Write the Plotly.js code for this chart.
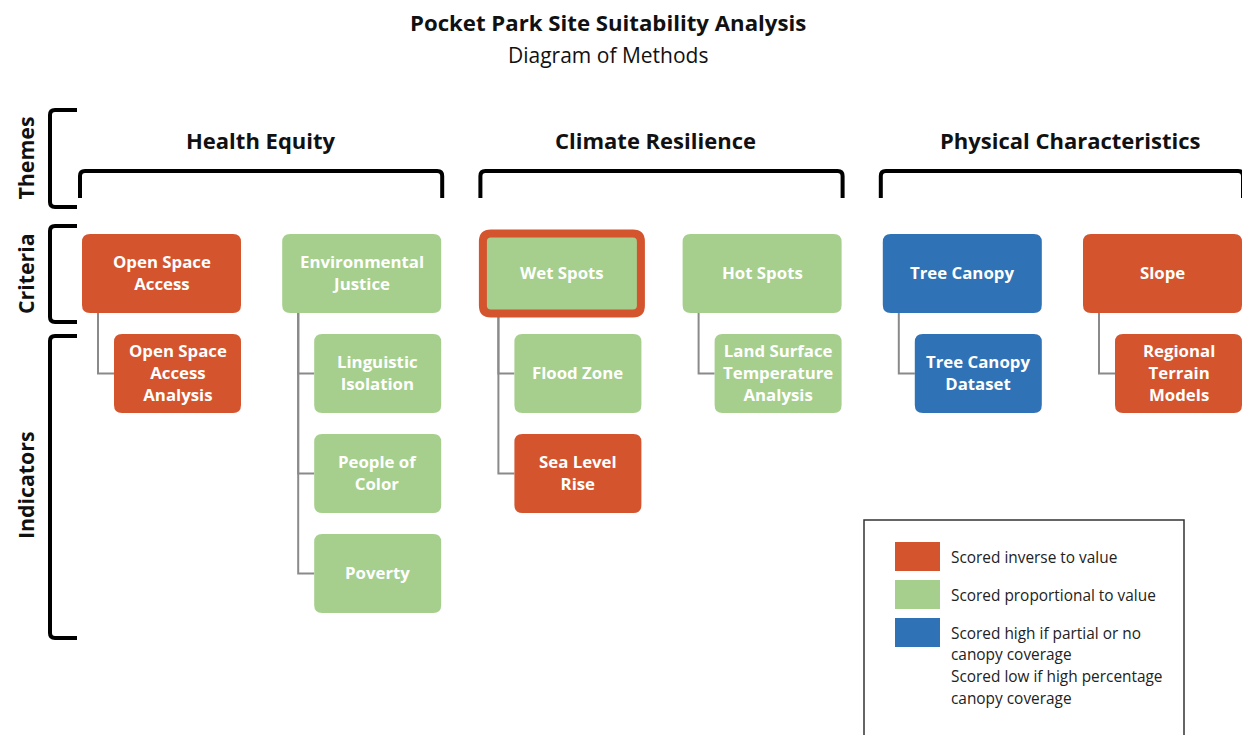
<!DOCTYPE html>
<html>
<head>
<meta charset="utf-8">
<script src="https://cdn.plot.ly/plotly-3.0.1.min.js"></script>
<style>html,body{margin:0;padding:0;background:#fff;}#chart{width:1242px;height:735px;}</style>
</head>
<body>
<div id="chart"></div>
<script>
// ---------- data ----------
const titleText = "Pocket Park Site Suitability Analysis";
const subtitleText = "Diagram of Methods";
const levels = ["Themes", "Criteria", "Indicators"];
const themes = ["Health Equity", "Climate Resilience", "Physical Characteristics"];
const criteria = ["Open Space<br>Access", "Environmental<br>Justice", "Wet Spots", "Hot Spots", "Tree Canopy", "Slope"];
const criteriaTheme = [0, 0, 1, 1, 2, 2];
const criteriaScoring = ["inverse", "proportional", "proportional", "proportional", "canopy", "inverse"];
const criteriaHighlight = [false, false, true, false, false, false];
const indicators = ["Open Space<br>Access<br>Analysis", "Linguistic<br>Isolation", "People of<br>Color", "Poverty",
  "Flood Zone", "Sea Level<br>Rise", "Land Surface<br>Temperature<br>Analysis", "Tree Canopy<br>Dataset", "Regional<br>Terrain<br>Models"];
const indicatorParent = [0, 1, 1, 1, 2, 2, 3, 4, 5];
const indicatorScoring = ["inverse", "proportional", "proportional", "proportional", "proportional", "inverse", "proportional", "canopy", "inverse"];
const scoringKeys = ["inverse", "proportional", "canopy"];
const scoringLabels = ["Scored inverse to value", "Scored proportional to value",
  "Scored high if partial or no<br>canopy coverage<br>Scored low if high percentage<br>canopy coverage"];

// ---------- styles / layout constants ----------
const colors = {inverse: "#D4542D", proportional: "#A6CF8D", canopy: "#2F72B5"};
const FONT = "'Open Sans', Lato, sans-serif";
const W = 1242, H = 735;
const colLeft0 = 82, colPitch = 200.2;
const critW = 159, critH = 79, critTop = 234;
const indOffset = 32, indW = 127, indH = 79, indTop = 334, indPitch = 100;
const radius = 8;
const boxFont = 16.8;

function rr(x0, y0, x1, y1, r) {
  return `M ${x0 + r} ${y0} L ${x1 - r} ${y0} Q ${x1} ${y0} ${x1} ${y0 + r} L ${x1} ${y1 - r} Q ${x1} ${y1} ${x1 - r} ${y1} L ${x0 + r} ${y1} Q ${x0} ${y1} ${x0} ${y1 - r} L ${x0} ${y0 + r} Q ${x0} ${y0} ${x0 + r} ${y0} Z`;
}

const shapes = [];
const annotations = [];

// Title
annotations.push({x: 608, y: 22, text: "<b>" + titleText + "</b>", showarrow: false, xref: "x", yref: "y",
  font: {family: FONT, size: 22.2, color: "#111"}});
annotations.push({x: 608, y: 55, text: subtitleText, showarrow: false, xref: "x", yref: "y",
  font: {family: FONT, size: 21, color: "#111"}});

// Level brackets on the left
const levelSpans = [[110, 207], [226, 322], [336, 638]];
levels.forEach((lv, i) => {
  const [a, b] = levelSpans[i];
  shapes.push({type: "path", xref: "x", yref: "y", path: `M 77 ${a} L 55 ${a} Q 50 ${a} 50 ${a + 5} L 50 ${b - 5} Q 50 ${b} 55 ${b} L 77 ${b}`,
    line: {color: "#000", width: 4}});
  annotations.push({x: 25, y: (a + b) / 2 + (i === 2 ? -2 : 0), text: "<b>" + lv + "</b>", textangle: -90, showarrow: false, xref: "x", yref: "y",
    font: {family: FONT, size: 21.3, color: "#111"}});
});

// Themes with brackets
themes.forEach((t, ti) => {
  const cols = criteria.map((c, i) => i).filter(i => criteriaTheme[i] === ti);
  const left = colLeft0 + cols[0] * colPitch - 2;
  const right = colLeft0 + cols[cols.length - 1] * colPitch + critW + 1;
  const top = 171, bot = 198;
  shapes.push({type: "path", xref: "x", yref: "y",
    path: `M ${left} ${bot} L ${left} ${top + 5} Q ${left} ${top} ${left + 5} ${top} L ${right - 5} ${top} Q ${right} ${top} ${right} ${top + 5} L ${right} ${bot}`,
    line: {color: "#000", width: 4}});
  annotations.push({x: (left + right) / 2 - (ti === 1 ? 6 : 0) + (ti === 2 ? 9 : 0), y: 140, text: "<b>" + t + "</b>", showarrow: false, xref: "x", yref: "y",
    font: {family: FONT, size: 22, color: "#111"}});
});

// Connectors (drawn first, under boxes)
const rowCount = criteria.map(() => 0);
const indPos = indicators.map((lab, k) => {
  const p = indicatorParent[k];
  const row = rowCount[p]++;
  return {col: p, row: row};
});
indPos.forEach((ip, k) => {
  const cx = colLeft0 + ip.col * colPitch + 16;
  const y = indTop + ip.row * indPitch + indH / 2;
  const x1 = colLeft0 + ip.col * colPitch + indOffset;
  shapes.push({type: "path", xref: "x", yref: "y", layer: "below",
    path: `M ${cx} ${critTop + critH} L ${cx} ${y} L ${x1} ${y}`, line: {color: "#8a8a8a", width: 2}});
});

// Criteria boxes
criteria.forEach((c, i) => {
  const x0 = colLeft0 + i * colPitch, y0 = critTop;
  const hl = criteriaHighlight[i];
  shapes.push({type: "path", xref: "x", yref: "y",
    path: hl ? rr(x0 + 0.5, y0 - 0.5, x0 + critW - 0.5, y0 + critH + 0.5, radius) : rr(x0, y0, x0 + critW, y0 + critH, radius),
    fillcolor: colors[criteriaScoring[i]],
    line: hl ? {color: colors.inverse, width: 8} : {width: 0}});
  annotations.push({x: x0 + critW / 2, y: y0 + critH / 2 - 1, text: "<b>" + c + "</b>", showarrow: false, xref: "x", yref: "y",
    font: {family: FONT, size: boxFont, color: "#fff"}});
});

// Indicator boxes
indicators.forEach((lab, k) => {
  const ip = indPos[k];
  const x0 = colLeft0 + ip.col * colPitch + indOffset, y0 = indTop + ip.row * indPitch;
  shapes.push({type: "path", xref: "x", yref: "y", path: rr(x0, y0, x0 + indW, y0 + indH, radius),
    fillcolor: colors[indicatorScoring[k]], line: {width: 0}});
  annotations.push({x: x0 + indW / 2, y: y0 + indH / 2 - 1, text: "<b>" + lab + "</b>", showarrow: false, xref: "x", yref: "y",
    font: {family: FONT, size: boxFont, color: "#fff"}});
});

// Legend box
shapes.push({type: "rect", xref: "x", yref: "y", x0: 864, y0: 520, x1: 1184, y1: 740, line: {color: "#333", width: 1.5}, fillcolor: "rgba(0,0,0,0)"});
const legTop = 542, legPitch = 38, swW = 45, swH = 29, legLine = 21.7;
scoringKeys.forEach((key, i) => {
  const y0 = legTop + i * legPitch;
  shapes.push({type: "rect", xref: "x", yref: "y", x0: 895, y0: y0, x1: 895 + swW, y1: y0 + swH, fillcolor: colors[key], line: {width: 0}});
  scoringLabels[i].split("<br>").forEach((ln, j) => {
    annotations.push({x: 949, y: y0 + 15 + j * legLine, text: ln, showarrow: false, xref: "x", yref: "y",
      xanchor: "left", yanchor: "middle", align: "left",
      font: {family: FONT, size: 15.4, color: "#222"}});
  });
});

const layout = {
  width: W, height: H,
  margin: {l: 0, r: 0, t: 0, b: 0},
  paper_bgcolor: "#fff", plot_bgcolor: "#fff",
  xaxis: {range: [0, W], visible: false, fixedrange: true},
  yaxis: {range: [H, 0], visible: false, fixedrange: true},
  showlegend: false,
  shapes: shapes,
  annotations: annotations
};
Plotly.newPlot("chart", [{x: [], y: [], type: "scatter"}], layout, {displayModeBar: false, staticPlot: true});
</script>
</body>
</html>
